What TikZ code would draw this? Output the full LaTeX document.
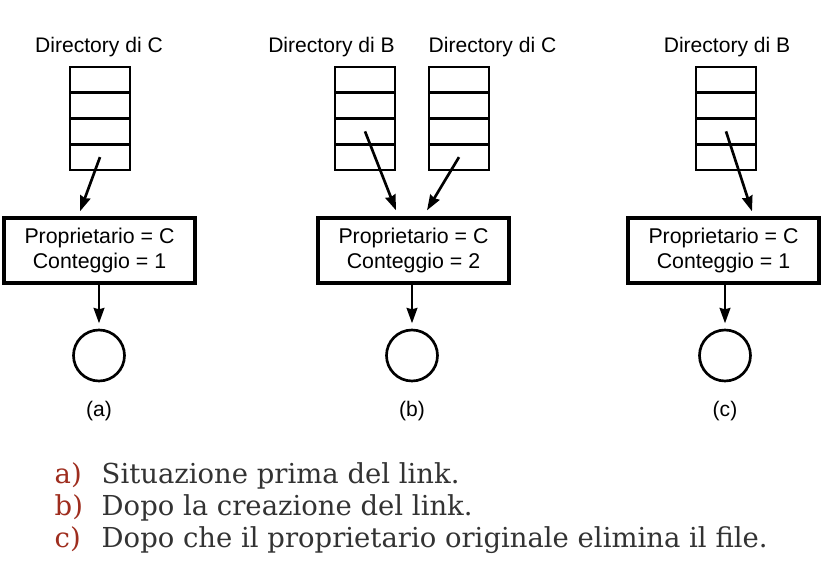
\documentclass[tikz,border=0pt]{standalone}
\usepackage{fontspec}
\setmainfont{Liberation Sans}
\newfontfamily\capfont{DejaVu Serif}
\usetikzlibrary{arrows.meta,calc}
\definecolor{captext}{RGB}{51,51,51}
\definecolor{capred}{RGB}{158,45,30}

\begin{document}
\begin{tikzpicture}[x=0.75pt,y=-0.75pt,
  dirlabel/.style={anchor=base, font=\fontsize{15.8}{18}\selectfont},
  cell/.style={draw, line width=1.9pt, minimum width=45pt, minimum height=19.3pt, inner sep=0pt},
  inode/.style={draw, line width=2.5pt, minimum width=143.25pt, minimum height=48.75pt,
    align=center, inner sep=0pt, font=\fontsize{16}{18.75}\selectfont},
  fileobj/.style={draw, circle, line width=2pt, minimum size=38.25pt, inner sep=0pt},
  ptr/.style={-{Stealth[length=11.5pt,width=8pt,inset=1pt]}, line width=2pt},
  capmark/.style={anchor=base west, text=capred, font=\capfont\fontsize{20.6}{24}\selectfont},
  capline/.style={anchor=base west, text=captext, font=\capfont\fontsize{20.6}{24}\selectfont}]
  \useasboundingbox (0,0) rectangle (832,561);

  % (a) situazione prima del link
  \node[dirlabel] (labA) at (99,52) {Directory di C};
  \foreach \i in {1,...,4}
    \node[cell] (dirA-\i) at (100,54.1+25.75*\i) {};
  \node[inode] (inoA) at (99.5,250.5) {Proprietario = C\\Conteggio = 1};
  \node[fileobj] (fileA) at (99,355.5) {};
  \draw[ptr] (dirA-4.center) -- ($(inoA.north)+(-19.5,-5)$);
  \draw[ptr, shorten >=4pt] (inoA.south -| fileA) -- (fileA.north);
  \node[dirlabel] (subA) at (99,416) {(a)};

  % (b) dopo la creazione del link
  \node[dirlabel] (labB) at (331.5,52) {Directory di B};
  \node[dirlabel] (labBC) at (492.5,52) {Directory di C};
  \foreach \i in {1,...,4} {
    \node[cell] (dirB-\i) at (365,54.1+25.75*\i) {};
    \node[cell] (dirBC-\i) at (459,54.1+25.75*\i) {};
  }
  \node[inode] (inoB) at (413.5,250.5) {Proprietario = C\\Conteggio = 2};
  \node[fileobj] (fileB) at (412,355.5) {};
  \draw[ptr] (dirB-3.center) -- ($(inoB.north)+(-17.5,-6)$);
  \draw[ptr] (dirBC-4.center) -- ($(inoB.north)+(13.5,-6)$);
  \draw[ptr, shorten >=4pt] (inoB.south -| fileB) -- (fileB.north);
  \node[dirlabel] (subB) at (412,416) {(b)};

  % (c) dopo che il proprietario originale elimina il file
  \node[dirlabel] (labC) at (727,52) {Directory di B};
  \foreach \i in {1,...,4}
    \node[cell] (dirC-\i) at (726,54.1+25.75*\i) {};
  \node[inode] (inoC) at (723.5,250.5) {Proprietario = C\\Conteggio = 1};
  \node[fileobj] (fileC) at (725,355.5) {};
  \draw[ptr] (dirC-3.center) -- ($(inoC.north)+(28.5,-5)$);
  \draw[ptr, shorten >=4pt] (inoC.south -| fileC) -- (fileC.north);
  \node[dirlabel] (subC) at (725,416) {(c)};

  % didascalia
  \node[capmark] (markA) at (50,483) {a)};
  \node[capline] (txtA) at (97,483) {Situazione prima del link.};
  \node[capmark] (markB) at (50,515) {b)};
  \node[capline] (txtB) at (97,515) {Dopo la creazione del link.};
  \node[capmark] (markC) at (50,547) {c)};
  \node[capline] (txtC) at (97,547) {Dopo che il proprietario originale elimina il file.};
\end{tikzpicture}
\end{document}
